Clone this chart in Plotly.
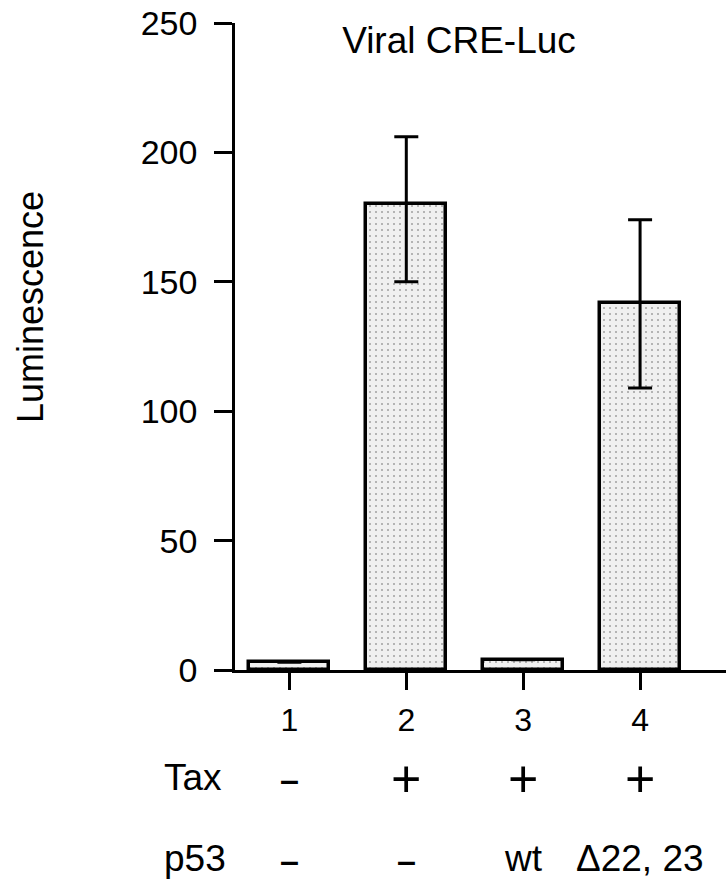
import plotly.graph_objects as go

lanes = [1, 2, 3, 4]
lane_labels = ["1", "2", "3", "4"]
luminescence = [3, 180, 4, 142]
err_plus = [0, 26, 0, 32]
err_minus = [0, 30, 0, 33]
tax_row = ["-", "+", "+", "+"]
p53_row = ["-", "-", "wt", "Δ22, 23"]
y_ticks = [0, 50, 100, 150, 200, 250]

FONT = "Liberation Sans, Arial, Helvetica, sans-serif"
W, H = 726, 880
L, T, B, R = 235, 23, 210, 0
PW, PH = W - L - R, H - T - B


def px_x(p):
    return (p - L) / PW


def px_y(p):
    return 1 - (p - T) / PH


fig = go.Figure()
fig.add_trace(go.Bar(
    x=lanes, y=luminescence, width=0.684,
    marker=dict(color="#efefef",
                line=dict(color="black", width=3.5),
                pattern=dict(shape=".", fgcolor="#5a5a5a", bgcolor="#f0f0f0",
                             size=6, solidity=0.1)),
    error_y=dict(type="data", symmetric=False, array=err_plus, arrayminus=err_minus,
                 color="black", thickness=3, width=12),
    showlegend=False,
))


def sign_text(t):
    if t == "-":
        return "<b>–</b>"
    return t


annotations = [dict(text="Luminescence", xref="paper", yref="paper",
                    x=px_x(30), y=px_y(307), xanchor="center", yanchor="middle",
                    textangle=-90, showarrow=False,
                    font=dict(family=FONT, size=36, color="black"))]
row_y = {"Tax": 777, "p53": 858}
for name, row in (("Tax", tax_row), ("p53", p53_row)):
    annotations.append(dict(text=name, xref="paper", yref="paper",
                            x=px_x(162), y=px_y(row_y[name]),
                            xanchor="left", yanchor="middle", showarrow=False,
                            font=dict(family=FONT, size=37, color="black")))
    for lane, txt in zip(lanes, row):
        if txt == "+":
            size, yy = 52, row_y[name] + 2
        elif txt == "-":
            size, yy = 34, row_y[name] + 2
        else:
            size, yy = 37, row_y[name]
        annotations.append(dict(text=sign_text(txt), xref="x", yref="paper", x=lane,
                                y=px_y(yy), xanchor="center", yanchor="middle",
                                showarrow=False,
                                font=dict(family=FONT, size=size, color="black")))

fig.update_layout(
    width=W, height=H,
    margin=dict(l=L, r=R, t=T, b=B, pad=0),
    paper_bgcolor="white", plot_bgcolor="white",
    title=dict(text="Viral CRE-Luc", x=459 / W, y=1 - 40 / H,
               xanchor="center", yanchor="middle", xref="container", yref="container",
               font=dict(family=FONT, size=37, color="black")),
    xaxis=dict(range=[0.5346, 4.735], tickmode="array", tickvals=lanes, ticktext=lane_labels,
               ticks="outside", ticklen=17, tickwidth=2.5, tickcolor="black",
               showline=True, linecolor="black", linewidth=2.5, showgrid=False,
               zeroline=False, ticklabelstandoff=3,
               tickfont=dict(family=FONT, size=32, color="black")),
    yaxis=dict(range=[0, 250], tickmode="array", tickvals=y_ticks,
               ticks="outside", ticklen=18, tickwidth=2.5, tickcolor="black",
               showline=True, linecolor="black", linewidth=2.5, showgrid=False,
               zeroline=False, ticklabelstandoff=10,
               tickfont=dict(family=FONT, size=34, color="black")),
    annotations=annotations,
    bargap=0,
)

fig.write_html("out.html")
